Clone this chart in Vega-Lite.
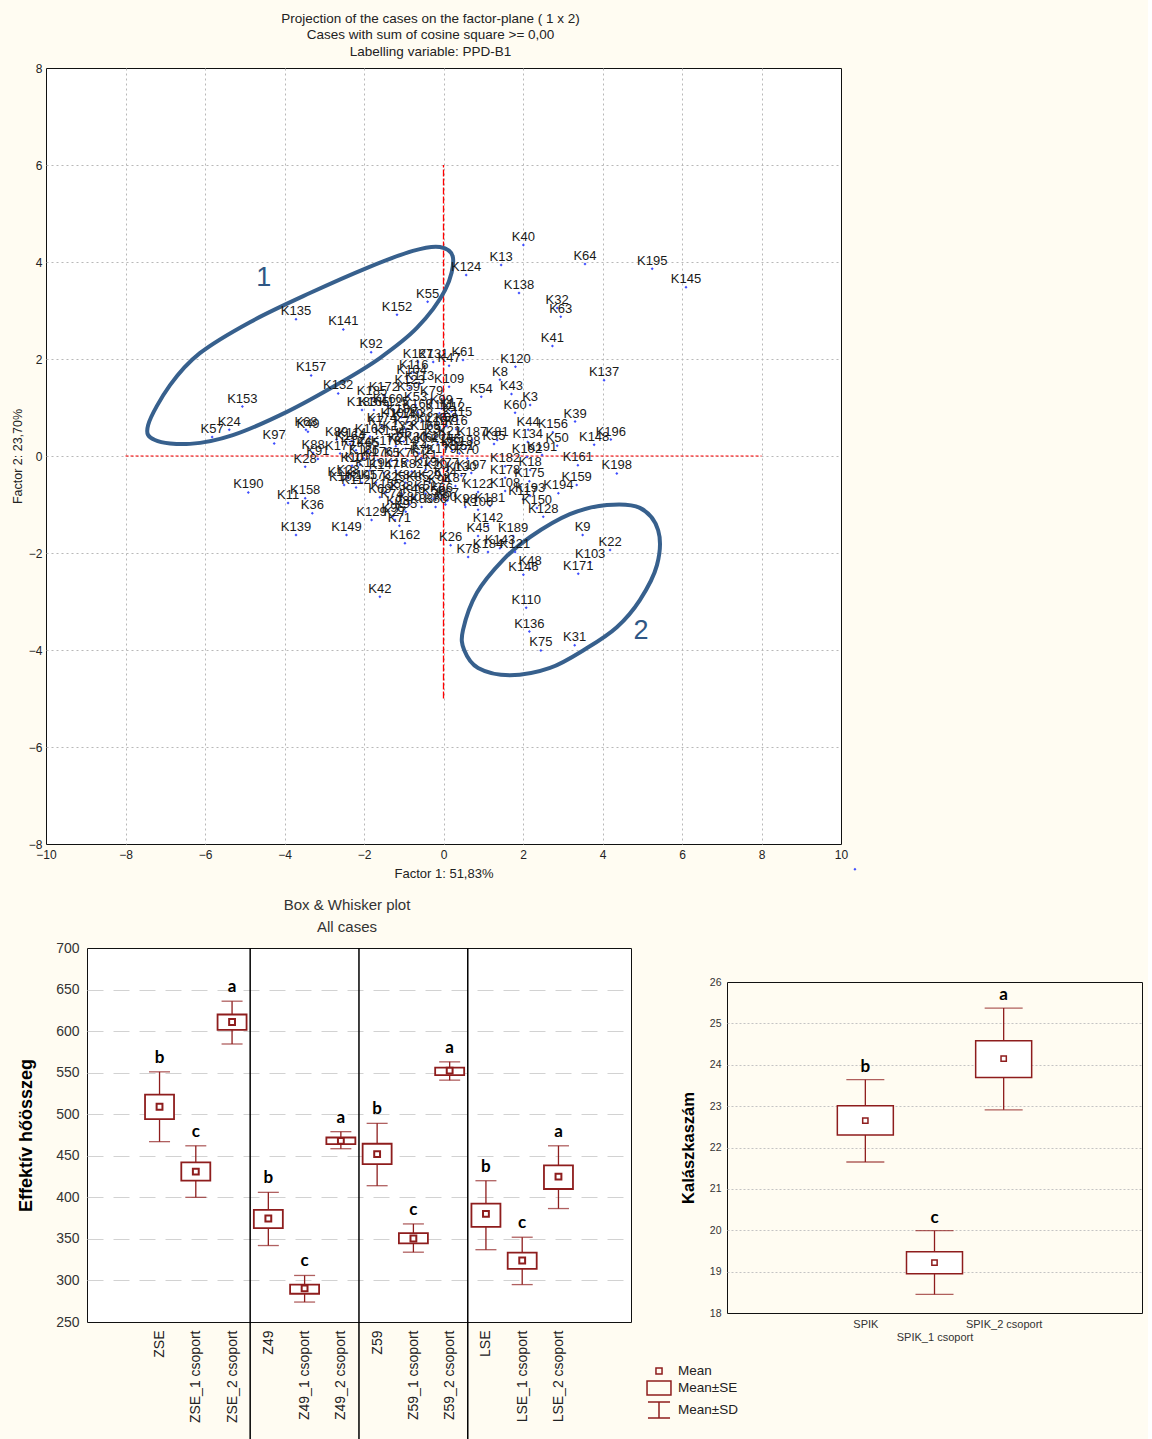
{
 "$schema": "https://vega.github.io/schema/vega-lite/v6.json",
 "background": "#fffcf2",
 "padding": {"left": 10, "top": 11, "right": 5, "bottom": 0},
 "config": {
  "font": "Liberation Sans",
  "view": {"fill": "white", "stroke": "#111", "strokeWidth": 1},
  "axis": {"domain": false, "ticks": false, "labelColor": "#222", "titleColor": "#222", "labelFlush": false, "labelOverlap": false}
 },
 "datasets": {
  "pts": [
   {"k":"K135","f1":-3.71,"f2":2.82},{"k":"K141","f1":-2.52,"f2":2.61},{"k":"K152","f1":-1.17,"f2":2.91},{"k":"K55","f1":-0.40,"f2":3.18},
   {"k":"K92","f1":-1.82,"f2":2.14},{"k":"K157","f1":-3.33,"f2":1.66},{"k":"K132","f1":-2.65,"f2":1.29},{"k":"K185","f1":-1.80,"f2":1.18},
   {"k":"K153","f1":-5.06,"f2":1.02},{"k":"K127","f1":-0.64,"f2":1.94},{"k":"K131","f1":-0.26,"f2":1.94},{"k":"K47","f1":0.14,"f2":1.86},
   {"k":"K61","f1":0.49,"f2":1.98},{"k":"K40","f1":2.01,"f2":4.35},{"k":"K13","f1":1.45,"f2":3.94},{"k":"K124","f1":0.57,"f2":3.73},
   {"k":"K64","f1":3.56,"f2":3.96},{"k":"K195","f1":5.25,"f2":3.86},{"k":"K145","f1":6.10,"f2":3.48},{"k":"K138","f1":1.90,"f2":3.36},
   {"k":"K32","f1":2.86,"f2":3.05},{"k":"K63","f1":2.95,"f2":2.87},{"k":"K41","f1":2.74,"f2":2.27},{"k":"K120","f1":1.81,"f2":1.84},
   {"k":"K8","f1":1.42,"f2":1.57},{"k":"K137","f1":4.04,"f2":1.56},{"k":"K43","f1":1.71,"f2":1.28},{"k":"K3","f1":2.18,"f2":1.05},
   {"k":"K54","f1":0.95,"f2":1.22},{"k":"K109","f1":0.14,"f2":1.43},{"k":"K60","f1":1.80,"f2":0.89},{"k":"K39","f1":3.31,"f2":0.71},
   {"k":"K44","f1":2.13,"f2":0.54},{"k":"K156","f1":2.75,"f2":0.49},{"k":"K196","f1":4.21,"f2":0.34},{"k":"K148","f1":3.79,"f2":0.23},
   {"k":"K50","f1":2.86,"f2":0.21},{"k":"K134","f1":2.12,"f2":0.29},{"k":"K187","f1":0.72,"f2":0.33},{"k":"K81","f1":1.35,"f2":0.33},
   {"k":"K35","f1":1.27,"f2":0.25},{"k":"K192","f1":2.10,"f2":-0.02},{"k":"K191","f1":2.48,"f2":0.02},{"k":"K161","f1":3.38,"f2":-0.19},
   {"k":"K198","f1":4.36,"f2":-0.36},{"k":"K182","f1":1.55,"f2":-0.21},{"k":"K18","f1":2.18,"f2":-0.29},{"k":"K159","f1":3.35,"f2":-0.60},
   {"k":"K175","f1":2.16,"f2":-0.52},{"k":"K178","f1":1.55,"f2":-0.45},{"k":"K194","f1":2.89,"f2":-0.77},{"k":"K193","f1":2.18,"f2":-0.82},
   {"k":"K108","f1":1.55,"f2":-0.72},{"k":"K122","f1":0.87,"f2":-0.74},{"k":"K117","f1":2.00,"f2":-0.89},{"k":"K181","f1":1.17,"f2":-1.03},
   {"k":"K106","f1":0.87,"f2":-1.11},{"k":"K150","f1":2.35,"f2":-1.07},{"k":"K128","f1":2.51,"f2":-1.25},{"k":"K142","f1":1.12,"f2":-1.44},
   {"k":"K45","f1":0.87,"f2":-1.65},{"k":"K189","f1":1.75,"f2":-1.65},{"k":"K9","f1":3.50,"f2":-1.63},{"k":"K22","f1":4.19,"f2":-1.94},
   {"k":"K26","f1":0.18,"f2":-1.84},{"k":"K78","f1":0.62,"f2":-2.08},{"k":"K184","f1":1.12,"f2":-1.98},{"k":"K143","f1":1.42,"f2":-1.90},
   {"k":"K121","f1":1.80,"f2":-1.98},{"k":"K103","f1":3.69,"f2":-2.19},{"k":"K171","f1":3.39,"f2":-2.43},{"k":"K48","f1":2.18,"f2":-2.32},
   {"k":"K146","f1":2.01,"f2":-2.45},{"k":"K110","f1":2.08,"f2":-3.13},{"k":"K136","f1":2.16,"f2":-3.62},{"k":"K75","f1":2.45,"f2":-4.01},
   {"k":"K31","f1":3.30,"f2":-3.90},{"k":"K24","f1":-5.39,"f2":0.54},{"k":"K57","f1":-5.82,"f2":0.39},{"k":"K97","f1":-4.26,"f2":0.26},
   {"k":"K68","f1":-3.46,"f2":0.54},{"k":"K49","f1":-3.41,"f2":0.50},{"k":"K89","f1":-2.69,"f2":0.34},{"k":"K114","f1":-2.31,"f2":0.31},
   {"k":"K88","f1":-3.28,"f2":0.06},{"k":"K28","f1":-3.48,"f2":-0.22},{"k":"K91","f1":-3.16,"f2":-0.06},{"k":"K190","f1":-4.91,"f2":-0.75},
   {"k":"K11","f1":-3.91,"f2":-0.97},{"k":"K158","f1":-3.48,"f2":-0.87},{"k":"K36","f1":-3.30,"f2":-1.18},{"k":"K139","f1":-3.71,"f2":-1.63},
   {"k":"K149","f1":-2.44,"f2":-1.63},{"k":"K129","f1":-1.81,"f2":-1.32},{"k":"K96","f1":-1.27,"f2":-1.24},{"k":"K27","f1":-1.22,"f2":-1.32},
   {"k":"K71","f1":-1.11,"f2":-1.44},{"k":"K162","f1":-0.97,"f2":-1.80},{"k":"K42","f1":-1.60,"f2":-2.90},
   {"k":"K116","f1":-0.75,"f2":1.72},{"k":"K104","f1":-0.80,"f2":1.60},{"k":"K123","f1":-0.85,"f2":1.40},{"k":"K113","f1":-0.60,"f2":1.48},
   {"k":"K59","f1":-0.88,"f2":1.25},{"k":"K79","f1":-0.30,"f2":1.18},{"k":"K53","f1":-0.70,"f2":1.05},{"k":"K160","f1":-1.40,"f2":1.02},
   {"k":"K165","f1":-1.75,"f2":0.95},{"k":"K183","f1":-2.05,"f2":0.95},{"k":"K125","f1":-1.25,"f2":0.95},{"k":"K17","f1":0.20,"f2":0.92},
   {"k":"K12","f1":0.25,"f2":0.85},{"k":"K99","f1":-0.05,"f2":0.98},{"k":"K111","f1":-0.10,"f2":0.88},{"k":"K180","f1":-1.05,"f2":0.80},
   {"k":"K107","f1":-1.20,"f2":0.72},{"k":"K58","f1":0.08,"f2":0.62},{"k":"K126","f1":-0.30,"f2":0.62},{"k":"K140","f1":-0.90,"f2":0.70},
   {"k":"K174","f1":-1.55,"f2":0.62},{"k":"K7","f1":-1.70,"f2":0.55},{"k":"K73","f1":-0.95,"f2":0.55},{"k":"K33","f1":-0.55,"f2":0.72},
   {"k":"K168","f1":-0.45,"f2":0.45},{"k":"K133","f1":-1.15,"f2":0.45},{"k":"K37","f1":-0.20,"f2":0.40},{"k":"K144","f1":-2.20,"f2":0.12},
   {"k":"K65","f1":-1.90,"f2":0.10},{"k":"K170","f1":-1.45,"f2":0.15},{"k":"K2","f1":-1.20,"f2":0.20},{"k":"K14","f1":-0.95,"f2":0.15},
   {"k":"K30","f1":-0.70,"f2":0.22},{"k":"K62","f1":-0.40,"f2":0.20},{"k":"K101","f1":-0.15,"f2":0.25},{"k":"K166","f1":0.05,"f2":0.18},
   {"k":"K151","f1":0.40,"f2":0.05},{"k":"K52","f1":0.22,"f2":0.12},{"k":"K179","f1":-0.05,"f2":-0.02},{"k":"K70","f1":0.60,"f2":-0.05},
   {"k":"K72","f1":-0.55,"f2":-0.05},{"k":"K76","f1":-0.90,"f2":-0.10},{"k":"K5","f1":-1.30,"f2":-0.10},{"k":"K176","f1":-1.65,"f2":-0.08},
   {"k":"K100","f1":-2.10,"f2":-0.18},{"k":"K10","f1":-2.30,"f2":-0.20},{"k":"K119","f1":-1.85,"f2":-0.30},{"k":"K147","f1":-1.50,"f2":-0.35},
   {"k":"K15","f1":-1.20,"f2":-0.30},{"k":"K82","f1":-0.80,"f2":-0.32},{"k":"K19","f1":-0.45,"f2":-0.28},{"k":"K20","f1":-0.20,"f2":-0.35},
   {"k":"K77","f1":0.10,"f2":-0.30},{"k":"K130","f1":0.45,"f2":-0.40},{"k":"K23","f1":-2.40,"f2":-0.45},{"k":"K118","f1":-2.55,"f2":-0.50},
   {"k":"K105","f1":-2.05,"f2":-0.55},{"k":"K173","f1":-1.70,"f2":-0.55},{"k":"K25","f1":-1.25,"f2":-0.60},{"k":"K84","f1":-0.95,"f2":-0.55},
   {"k":"K85","f1":-0.65,"f2":-0.60},{"k":"K29","f1":-0.35,"f2":-0.55},{"k":"K94","f1":-0.10,"f2":-0.65},{"k":"K34","f1":0.05,"f2":-0.50},
   {"k":"K87","f1":0.30,"f2":-0.62},{"k":"K102","f1":-2.50,"f2":-0.60},{"k":"K112","f1":-2.20,"f2":-0.65},{"k":"K155","f1":-1.45,"f2":-0.75},
   {"k":"K38","f1":-1.05,"f2":-0.78},{"k":"K46","f1":-0.75,"f2":-0.85},{"k":"K51","f1":-0.45,"f2":-0.78},{"k":"K56","f1":-0.25,"f2":-0.88},
   {"k":"K66","f1":-0.05,"f2":-0.82},{"k":"K67","f1":0.10,"f2":-0.92},{"k":"K69","f1":-1.60,"f2":-0.85},{"k":"K74","f1":-1.30,"f2":-0.95},
   {"k":"K80","f1":-0.85,"f2":-1.00},{"k":"K83","f1":-0.55,"f2":-1.05},{"k":"K86","f1":-0.20,"f2":-1.05},{"k":"K90","f1":0.05,"f2":-1.00},
   {"k":"K93","f1":-1.15,"f2":-1.10},{"k":"K95","f1":-0.95,"f2":-1.15},{"k":"K98","f1":0.55,"f2":-1.05},{"k":"K1","f1":-0.35,"f2":-0.15},
   {"k":"K4","f1":-0.60,"f2":0.05},{"k":"K6","f1":-1.00,"f2":0.30},{"k":"K16","f1":0.32,"f2":0.55},{"k":"K21","f1":0.15,"f2":0.35},
   {"k":"K115","f1":0.35,"f2":0.75},{"k":"K154","f1":-1.35,"f2":0.35},{"k":"K163","f1":-1.85,"f2":0.40},{"k":"K164","f1":-2.35,"f2":0.25},
   {"k":"K167","f1":-0.10,"f2":0.55},{"k":"K169","f1":-0.65,"f2":0.90},{"k":"K172","f1":-1.50,"f2":1.25},{"k":"K177","f1":-2.60,"f2":0.05},
   {"k":"K186","f1":-2.00,"f2":-0.05},{"k":"K188","f1":0.55,"f2":0.15},{"k":"K197","f1":0.70,"f2":-0.35},
   {"k":"","f1":10.35,"f2":-8.52}
  ],
  "ell": [
   {"e":1,"i":0,"f1":-7.43,"f2":0.64},{"e":1,"i":1,"f1":-6.88,"f2":1.46},{"e":1,"i":2,"f1":-6.13,"f2":2.12},{"e":1,"i":3,"f1":-4.87,"f2":2.76},
   {"e":1,"i":4,"f1":-3.36,"f2":3.36},{"e":1,"i":5,"f1":-1.92,"f2":3.88},{"e":1,"i":6,"f1":-0.77,"f2":4.23},{"e":1,"i":7,"f1":-0.09,"f2":4.31},
   {"e":1,"i":8,"f1":0.24,"f2":4.08},{"e":1,"i":9,"f1":0.04,"f2":3.42},{"e":1,"i":10,"f1":-0.67,"f2":2.64},{"e":1,"i":11,"f1":-1.60,"f2":2.02},
   {"e":1,"i":12,"f1":-2.60,"f2":1.51},{"e":1,"i":13,"f1":-3.94,"f2":0.91},{"e":1,"i":14,"f1":-5.30,"f2":0.43},{"e":1,"i":15,"f1":-6.38,"f2":0.25},
   {"e":1,"i":16,"f1":-7.26,"f2":0.33},
   {"e":2,"i":0,"f1":0.49,"f2":-3.59},{"e":2,"i":1,"f1":0.84,"f2":-2.82},{"e":2,"i":2,"f1":1.50,"f2":-2.14},{"e":2,"i":3,"f1":2.18,"f2":-1.67},
   {"e":2,"i":4,"f1":3.18,"f2":-1.20},{"e":2,"i":5,"f1":4.11,"f2":-1.01},{"e":2,"i":6,"f1":4.94,"f2":-1.07},{"e":2,"i":7,"f1":5.40,"f2":-1.53},
   {"e":2,"i":8,"f1":5.37,"f2":-2.25},{"e":2,"i":9,"f1":4.94,"f2":-2.97},{"e":2,"i":10,"f1":4.36,"f2":-3.53},{"e":2,"i":11,"f1":3.61,"f2":-3.96},
   {"e":2,"i":12,"f1":2.68,"f2":-4.37},{"e":2,"i":13,"f1":1.67,"f2":-4.52},{"e":2,"i":14,"f1":0.87,"f2":-4.37},{"e":2,"i":15,"f1":0.52,"f2":-4.00}
  ],
  "eff": [
   {"g":"ZSE","mean":509,"se_lo":494,"se_hi":523.5,"sd_lo":467,"sd_hi":551,"sig":"b"},
   {"g":"ZSE_1 csoport","mean":431,"se_lo":420,"se_hi":442,"sd_lo":400,"sd_hi":462,"sig":"c"},
   {"g":"ZSE_2 csoport","mean":611,"se_lo":601.5,"se_hi":620,"sd_lo":584.5,"sd_hi":636,"sig":"a"},
   {"g":"Z49","mean":374.5,"se_lo":363,"se_hi":385,"sd_lo":342,"sd_hi":406,"sig":"b"},
   {"g":"Z49_1 csoport","mean":290.5,"se_lo":284,"se_hi":295,"sd_lo":274,"sd_hi":306,"sig":"c"},
   {"g":"Z49_2 csoport","mean":468,"se_lo":464,"se_hi":472,"sd_lo":458.5,"sd_hi":479,"sig":"a"},
   {"g":"Z59","mean":452,"se_lo":440,"se_hi":464.5,"sd_lo":414,"sd_hi":489,"sig":"b"},
   {"g":"Z59_1 csoport","mean":350.5,"se_lo":344.5,"se_hi":357,"sd_lo":334,"sd_hi":368,"sig":"c"},
   {"g":"Z59_2 csoport","mean":552.5,"se_lo":547,"se_hi":556,"sd_lo":541,"sd_hi":563,"sig":"a"},
   {"g":"LSE","mean":380,"se_lo":364.5,"se_hi":392.5,"sd_lo":337,"sd_hi":420,"sig":"b"},
   {"g":"LSE_1 csoport","mean":324,"se_lo":314,"se_hi":333.5,"sd_lo":295,"sd_hi":352,"sig":"c"},
   {"g":"LSE_2 csoport","mean":425,"se_lo":410,"se_hi":438.5,"sd_lo":386.5,"sd_hi":462,"sig":"a"}
  ],
  "kal": [
   {"g":"SPIK","mean":22.65,"se_lo":22.30,"se_hi":23.01,"sd_lo":21.65,"sd_hi":23.64,"sig":"b"},
   {"g":"SPIK_1 csoport","mean":19.22,"se_lo":18.95,"se_hi":19.48,"sd_lo":18.45,"sd_hi":19.99,"sig":"c"},
   {"g":"SPIK_2 csoport","mean":24.15,"se_lo":23.69,"se_hi":24.58,"sd_lo":22.91,"sd_hi":25.37,"sig":"a"}
  ]
 },
 "resolve": {"legend": {"shape": "independent"}},
 "concat": [
  {
   "width": 795, "height": 776,
   "title": {"text": ["Projection of the cases on the factor-plane ( 1 x  2)", "Cases with sum of cosine square >= 0,00", "Labelling variable: PPD-B1"], "fontSize": 13.5, "fontWeight": "normal", "lineHeight": 16.5, "offset": 4, "dx": -13, "color": "#222"},
   "layer": [
    {
     "data": {"values": [{"f1": 0, "f2": -5, "f2b": 6}]},
     "mark": {"type": "rule", "stroke": "#ff0000", "strokeWidth": 1.3, "strokeDash": [7, 2]},
     "encoding": {
      "x": {"field": "f1", "type": "quantitative", "scale": {"domain": [-10, 10], "nice": false, "zero": false},
            "axis": {"values": [-10,-8,-6,-4,-2,0,2,4,6,8,10], "title": "Factor 1: 51,83%", "grid": true, "gridDash": [2, 3], "gridColor": "#b8b8b8",
                     "gridOpacity": {"condition": {"test": "datum.value == -10 || datum.value == 10", "value": 0}, "value": 1},
                     "labelFontSize": 12, "labelPadding": 5, "titleFontSize": 13, "titleFontWeight": "normal", "titlePadding": 7}},
      "y": {"field": "f2", "type": "quantitative", "scale": {"domain": [-8, 8], "nice": false, "zero": false},
            "axis": {"values": [-8,-6,-4,-2,0,2,4,6,8], "title": "Factor 2: 23,70%", "grid": true, "gridDash": [2, 3], "gridColor": "#b8b8b8",
                     "gridOpacity": {"condition": {"test": "datum.value == -8 || datum.value == 8", "value": 0}, "value": 1},
                     "labelFontSize": 12, "labelPadding": 4, "minExtent": 15, "maxExtent": 15, "titleFontSize": 12.5, "titleFontWeight": "normal", "titlePadding": 7}},
      "y2": {"field": "f2b"}
     }
    },
    {
     "data": {"values": [{"f1": -8, "f1b": 8, "f2": 0}]},
     "mark": {"type": "rule", "stroke": "#ff0000", "strokeWidth": 1.2, "strokeDash": [3, 2]},
     "encoding": {
      "x": {"field": "f1", "type": "quantitative"},
      "x2": {"field": "f1b"},
      "y": {"field": "f2", "type": "quantitative"}
     }
    },
    {
     "data": {"name": "ell"},
     "mark": {"type": "line", "interpolate": "cardinal-closed", "stroke": "#37608d", "strokeWidth": 4},
     "encoding": {
      "x": {"field": "f1", "type": "quantitative"},
      "y": {"field": "f2", "type": "quantitative"},
      "detail": {"field": "e", "type": "nominal"},
      "order": {"field": "i", "type": "quantitative"}
     }
    },
    {
     "data": {"name": "pts"},
     "mark": {"type": "point", "shape": "diamond", "filled": true, "size": 9, "color": "#3d4dff", "opacity": 1},
     "encoding": {
      "x": {"field": "f1", "type": "quantitative"},
      "y": {"field": "f2", "type": "quantitative"}
     }
    },
    {
     "data": {"name": "pts"},
     "mark": {"type": "text", "fontSize": 13, "baseline": "alphabetic", "align": "center", "dy": -4, "color": "#1a1a1a"},
     "encoding": {
      "x": {"field": "f1", "type": "quantitative"},
      "y": {"field": "f2", "type": "quantitative"},
      "text": {"field": "k"}
     }
    },
    {
     "data": {"values": [{"n": "1", "f1": -4.52, "f2": 3.67}, {"n": "2", "f1": 4.97, "f2": -3.61}]},
     "mark": {"type": "text", "fontSize": 27, "baseline": "middle", "align": "center", "color": "#2f5785"},
     "encoding": {
      "x": {"field": "f1", "type": "quantitative"},
      "y": {"field": "f2", "type": "quantitative"},
      "text": {"field": "n"}
     }
    }
   ]
  },
  {
   "resolve": {"legend": {"shape": "independent"}},
   "concat": [
    {
     "concat": [
      {
       "width": 1, "height": 1,
       "view": {"fill": null, "stroke": null},
       "data": {"values": [{}]},
       "mark": {"type": "point", "opacity": 0}
      },
      {
       "width": 544, "height": 374,
       "title": {"text": ["Box & Whisker plot", "All cases"], "fontSize": 15, "fontWeight": "normal", "lineHeight": 22, "offset": 6, "dx": -12, "color": "#333"},
       "layer": [
        {
         "data": {"name": "eff"},
         "mark": {"type": "rule", "color": "#8e1d1d", "strokeWidth": 1.3},
         "encoding": {
          "x": {"field": "g", "type": "nominal", "sort": null,
                "scale": {"type": "point", "padding": 0, "domain": ["", " ", "ZSE","ZSE_1 csoport","ZSE_2 csoport","Z49","Z49_1 csoport","Z49_2 csoport","Z59","Z59_1 csoport","Z59_2 csoport","LSE","LSE_1 csoport","LSE_2 csoport", "  ", "   "]},
                "axis": {"title": null, "labelAngle": 270, "labelFontSize": 14, "labelPadding": 8, "labelColor": "#222", "grid": false}},
          "y": {"field": "sd_lo", "type": "quantitative", "scale": {"domain": [250, 700], "nice": false, "zero": false},
                "axis": {"values": [250,300,350,400,450,500,550,600,650,700], "title": "Effektív hőösszeg", "titleFontSize": 18, "titleFontWeight": "bold", "titleColor": "#000",
                         "grid": true, "gridDash": [16, 10], "gridColor": "#d2d2d2",
                         "gridOpacity": {"condition": {"test": "datum.value == 250 || datum.value == 700", "value": 0}, "value": 1},
                         "labelFontSize": 14, "labelPadding": 8, "minExtent": 30, "maxExtent": 30, "titlePadding": 22, "labelColor": "#333"}},
          "y2": {"field": "sd_hi"}
         }
        },
        {
         "data": {"name": "eff"},
         "mark": {"type": "tick", "color": "#8e1d1d", "size": 21, "thickness": 1.3},
         "encoding": {"x": {"field": "g", "type": "nominal", "sort": null}, "y": {"field": "sd_lo", "type": "quantitative"}}
        },
        {
         "data": {"name": "eff"},
         "mark": {"type": "tick", "color": "#8e1d1d", "size": 21, "thickness": 1.3},
         "encoding": {"x": {"field": "g", "type": "nominal", "sort": null}, "y": {"field": "sd_hi", "type": "quantitative"}}
        },
        {
         "data": {"name": "eff"},
         "mark": {"type": "bar", "width": 29, "fill": "white", "stroke": "#8e1d1d", "strokeWidth": 1.8},
         "encoding": {"x": {"field": "g", "type": "nominal", "sort": null}, "y": {"field": "se_lo", "type": "quantitative"}, "y2": {"field": "se_hi"}}
        },
        {
         "data": {"name": "eff"},
         "mark": {"type": "point", "shape": "square", "size": 34, "filled": false, "fill": "white", "stroke": "#8e1d1d", "strokeWidth": 2, "opacity": 1},
         "encoding": {"x": {"field": "g", "type": "nominal", "sort": null}, "y": {"field": "mean", "type": "quantitative"}}
        },
        {
         "data": {"name": "eff"},
         "mark": {"type": "text", "font": "Lato", "fontSize": 17, "fontWeight": "bold", "baseline": "alphabetic", "dy": -9, "color": "#000"},
         "encoding": {"x": {"field": "g", "type": "nominal", "sort": null}, "y": {"field": "sd_hi", "type": "quantitative"}, "text": {"field": "sig"}}
        },
        {
         "data": {"values": [{"g": "ZSE_2 csoport", "top": 700, "bottom": 109}, {"g": "Z49_2 csoport", "top": 700, "bottom": 109}, {"g": "Z59_2 csoport", "top": 700, "bottom": 109}]},
         "mark": {"type": "rule", "color": "#000", "strokeWidth": 1.5, "xOffset": 18.1},
         "encoding": {"x": {"field": "g", "type": "nominal", "sort": null}, "y": {"field": "top", "type": "quantitative"}, "y2": {"field": "bottom"}}
        }
       ]
      }
     ],
     "columns": 2,
     "align": "none",
     "spacing": -34
    },
    {
     "resolve": {"legend": {"shape": "independent"}},
     "concat": [
      {
       "width": 1, "height": 1,
       "view": {"fill": null, "stroke": null},
       "data": {"values": [{}]},
       "mark": {"type": "point", "opacity": 0}
      },
      {
       "width": 415, "height": 331,
       "layer": [
        {
         "data": {"name": "kal"},
         "mark": {"type": "rule", "color": "#8e1d1d", "strokeWidth": 1.3},
         "encoding": {
          "x": {"field": "g", "type": "nominal", "sort": null,
                "scale": {"type": "point", "padding": 0, "domain": ["", " ", "SPIK","SPIK_1 csoport","SPIK_2 csoport", "  ", "   "]},
                "axis": {"title": null, "labelAngle": 0, "labelFontSize": 11, "labelPadding": 5, "labelLineHeight": 13, "labelColor": "#333", "grid": false,
                         "labelExpr": "datum.label == 'SPIK_1 csoport' ? ['', datum.label] : datum.label"}},
          "y": {"field": "sd_lo", "type": "quantitative", "scale": {"domain": [18, 26], "nice": false, "zero": false},
                "axis": {"values": [18,19,20,21,22,23,24,25,26], "title": "Kalászkaszám", "titleFontSize": 16.5, "titleFontWeight": "bold", "titleColor": "#000",
                         "grid": true, "gridDash": [2, 2], "gridColor": "#c4c4c4",
                         "gridOpacity": {"condition": {"test": "datum.value == 18 || datum.value == 26", "value": 0}, "value": 1},
                         "labelFontSize": 10.5, "labelPadding": 6, "minExtent": 17, "maxExtent": 17, "titlePadding": 14, "labelColor": "#333"}},
          "y2": {"field": "sd_hi"}
         }
        },
        {
         "data": {"name": "kal"},
         "mark": {"type": "tick", "color": "#8e1d1d", "size": 38, "thickness": 1.3},
         "encoding": {"x": {"field": "g", "type": "nominal", "sort": null}, "y": {"field": "sd_lo", "type": "quantitative"}}
        },
        {
         "data": {"name": "kal"},
         "mark": {"type": "tick", "color": "#8e1d1d", "size": 38, "thickness": 1.3},
         "encoding": {"x": {"field": "g", "type": "nominal", "sort": null}, "y": {"field": "sd_hi", "type": "quantitative"}}
        },
        {
         "data": {"name": "kal"},
         "mark": {"type": "bar", "width": 56, "fill": "white", "stroke": "#8e1d1d", "strokeWidth": 1.5},
         "encoding": {"x": {"field": "g", "type": "nominal", "sort": null}, "y": {"field": "se_lo", "type": "quantitative"}, "y2": {"field": "se_hi"}}
        },
        {
         "data": {"name": "kal"},
         "mark": {"type": "point", "shape": "square", "size": 28, "filled": false, "fill": "white", "stroke": "#8e1d1d", "strokeWidth": 1.5, "opacity": 1},
         "encoding": {"x": {"field": "g", "type": "nominal", "sort": null}, "y": {"field": "mean", "type": "quantitative"}}
        },
        {
         "data": {"name": "kal"},
         "mark": {"type": "text", "font": "Lato", "fontSize": 17, "fontWeight": "bold", "baseline": "alphabetic", "dy": -8, "color": "#000"},
         "encoding": {"x": {"field": "g", "type": "nominal", "sort": null}, "y": {"field": "sd_hi", "type": "quantitative"}, "text": {"field": "sig"}}
        },
        {
         "data": {"values": [{"item": "Mean"}, {"item": "Mean±SE"}, {"item": "Mean±SD"}]},
         "mark": {"type": "point", "opacity": 0, "filled": false, "color": "#8e1d1d"},
         "encoding": {
          "shape": {"field": "item", "type": "nominal",
                    "scale": {"domain": ["Mean", "Mean±SE", "Mean±SD"], "range": ["M-0.32,-0.32H0.32V0.32H-0.32Z", "M-1.26,-0.74H1.26V0.74H-1.26Z", "M-1.16,-0.84H1.16M0,-0.84V0.84M-1.16,0.84H1.16"]},
                    "legend": {"title": null, "orient": "none", "legendX": -78.5, "legendY": 378.5, "padding": 0, "rowPadding": 0, "symbolSize": 361, "symbolOpacity": 1, "symbolFillColor": "transparent", "symbolStrokeColor": "#8e1d1d", "symbolStrokeWidth": 1.5, "labelFontSize": 13.5, "labelOffset": 8.5, "labelColor": "#222"}}
         }
        }
       ]
      }
     ],
     "columns": 1,
     "align": "none",
     "spacing": 24
    }
   ],
   "columns": 2,
   "align": "none",
   "spacing": 9
  }
 ],
 "columns": 1,
 "align": "none",
 "spacing": 16
}
